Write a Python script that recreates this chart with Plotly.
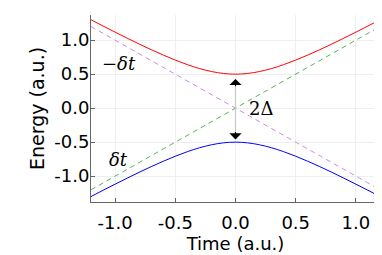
import plotly.graph_objects as go

# Time axis samples (a.u.)
t = [-1.2, -1.1, -1.0, -0.9, -0.8, -0.7, -0.6, -0.5, -0.4, -0.3, -0.2, -0.1, 0.0,
     0.1, 0.2, 0.3, 0.4, 0.5, 0.6, 0.7, 0.8, 0.9, 1.0, 1.1, 1.2]
# Upper adiabatic state energy
upper = [1.300, 1.208, 1.118, 1.030, 0.943, 0.860, 0.781, 0.707, 0.640, 0.583, 0.539, 0.510, 0.500,
         0.510, 0.539, 0.583, 0.640, 0.707, 0.781, 0.860, 0.943, 1.030, 1.118, 1.208, 1.300]
# Lower adiabatic state energy
lower = [-1.300, -1.208, -1.118, -1.030, -0.943, -0.860, -0.781, -0.707, -0.640, -0.583, -0.539, -0.510, -0.500,
         -0.510, -0.539, -0.583, -0.640, -0.707, -0.781, -0.860, -0.943, -1.030, -1.118, -1.208, -1.300]
# Diabatic states
t_diab = [-1.2, 1.2]
diab_plus = [-1.2, 1.2]    # δt
diab_minus = [1.2, -1.2]   # −δt

xtick_vals = [-1.0, -0.5, 0.0, 0.5, 1.0]
xtick_text = ["-1.0", "-0.5", "0.0", "0.5", "1.0"]
ytick_vals = [-1.0, -0.5, 0.0, 0.5, 1.0]
ytick_text = ["-1.0", "-0.5", "0.0", "0.5", "1.0"]

fig = go.Figure()
fig.add_trace(go.Scatter(x=t_diab, y=diab_plus, mode="lines",
                         line=dict(color="#55b255", width=1, dash="5px,4px")))
fig.add_trace(go.Scatter(x=t_diab, y=diab_minus, mode="lines",
                         line=dict(color="#cf8ae6", width=1, dash="5px,4px")))
fig.add_trace(go.Scatter(x=t, y=upper, mode="lines", line_shape="spline",
                         line=dict(color="#ff0000", width=1)))
fig.add_trace(go.Scatter(x=t, y=lower, mode="lines", line_shape="spline",
                         line=dict(color="#0000ff", width=1)))

# double arrow 2Δ
fig.add_shape(type="line", x0=0, x1=0, y0=-0.38, y1=0.38,
              line=dict(color="#c8c8c8", width=1.2))
for yy, yfrom in [(0.43, 0.30), (-0.46, -0.33)]:
    fig.add_annotation(x=0, y=yy, ax=0, ay=yfrom, xref="x", yref="y",
                       axref="x", ayref="y", showarrow=True, arrowhead=1,
                       arrowsize=1.7, arrowwidth=1.2, arrowcolor="black", text="")

mfont = dict(family="DejaVu Serif", size=18, color="black")
fig.add_annotation(x=-0.97, y=0.66, text="<i>−δt</i>", showarrow=False, font=mfont)
fig.add_annotation(x=-0.975, y=-0.75, text="<i>δt</i>", showarrow=False, font=mfont)
fig.add_annotation(x=0.21, y=0.0, text="2Δ", showarrow=False, font=mfont)

axis_common = dict(showline=True, linecolor="#666", linewidth=1, mirror=False,
                   showgrid=True, gridcolor="#efefef", gridwidth=1,
                   ticks="inside", ticklen=4, tickcolor="#666",
                   zeroline=False, automargin=False,
                   tickfont=dict(family="DejaVu Sans", size=18, color="black"))
fig.update_xaxes(range=[-1.2, 1.2], tickvals=xtick_vals, ticktext=xtick_text,
                 title_text="Time (a.u.)", title_standoff=0, ticklabelstandoff=4,
                 title_font=dict(family="DejaVu Sans", size=18, color="black"),
                 **axis_common)
fig.update_yaxes(range=[-1.38, 1.37], tickvals=ytick_vals, ticktext=ytick_text,
                 title_text="Energy (a.u.)", title_standoff=4, ticklabelstandoff=-3,
                 title_font=dict(family="DejaVu Sans", size=19, color="black"),
                 **axis_common)

fig.update_layout(width=374, height=247, showlegend=False,
                  plot_bgcolor="white", paper_bgcolor="white",
                  margin=dict(l=83, r=2, t=7, b=53))
fig.write_html("out.html")
